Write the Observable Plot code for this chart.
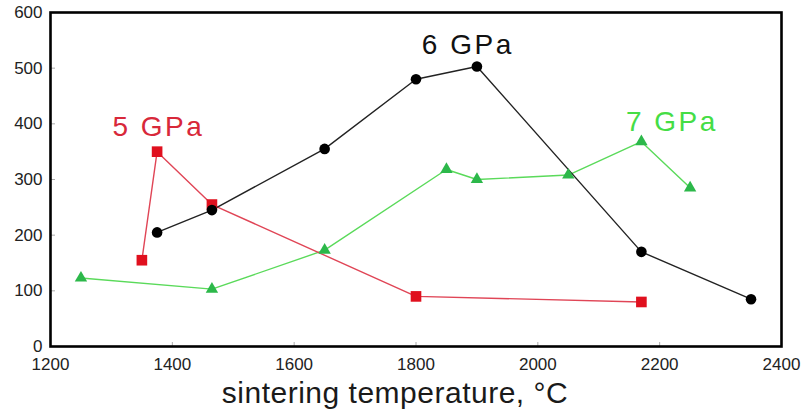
<!DOCTYPE html>
<html>
<head>
<meta charset="utf-8">
<script src="https://cdn.jsdelivr.net/npm/d3@7"></script>
<script src="https://cdn.jsdelivr.net/npm/@observablehq/plot@0.6"></script>
<style>
  html, body { margin: 0; padding: 0; background: #fff; }
  #chart svg { display: block; font-family: "Liberation Sans", Arial, sans-serif; }
</style>
</head>
<body>
<div id="chart"></div>
<script>
// 5 GPa (red squares)
const temp5 = [1350, 1375, 1465, 1800, 2170];
const val5  = [155, 350, 255, 90, 80];
// 6 GPa (black circles)
const temp6 = [1375, 1465, 1650, 1800, 1900, 2170, 2350];
const val6  = [205, 245, 355, 480, 503, 170, 85];
// 7 GPa (green triangles)
const temp7 = [1250, 1465, 1650, 1850, 1900, 2050, 2170, 2250];
const val7  = [123, 103, 173, 318, 300, 308, 368, 285];

const xTicks = [1200, 1400, 1600, 1800, 2000, 2200, 2400];
const yTicks = [0, 100, 200, 300, 400, 500, 600];

const labelText = ["5 GPa", "6 GPa", "7 GPa"];
const labelX = [1377, 1885, 2220];
const labelY = [395, 542, 404];
const labelColor = ["#d8283a", "#111111", "#45dd45"];

const xTitle = "sintering temperature, °C";

const s5 = temp5.map((t, i) => ({t, v: val5[i]}));
const s6 = temp6.map((t, i) => ({t, v: val6[i]}));
const s7 = temp7.map((t, i) => ({t, v: val7[i]}));
const labels = labelText.map((s, i) => ({s, x: labelX[i], y: labelY[i], c: labelColor[i]}));

const plot = Plot.plot({
  width: 808,
  height: 412,
  marginLeft: 50,
  marginRight: 27,
  marginTop: 12,
  marginBottom: 66,
  style: {background: "#fff"},
  x: {domain: [1200, 2400], ticks: xTicks, tickFormat: "d"},
  y: {domain: [0, 600], ticks: yTicks, tickFormat: "d"},
  marks: [
    Plot.axisX({ticks: xTicks, tickFormat: "d", tickSize: -4, stroke: "#aaa", tickPadding: 15, fontSize: 17, color: "#222", label: null}),
    Plot.axisY({ticks: yTicks, tickFormat: "d", tickSize: -5, stroke: "#aaa", tickPadding: 13, fontSize: 17, color: "#222", label: null}),
    Plot.line(s7, {x: "t", y: "v", stroke: "#5ada5a", strokeWidth: 1.4}),
    Plot.line(s5, {x: "t", y: "v", stroke: "#e04556", strokeWidth: 1.4}),
    Plot.line(s6, {x: "t", y: "v", stroke: "#222", strokeWidth: 1.4}),
    Plot.dot(s7, {x: "t", y: "v", symbol: "triangle", r: 4.6, fill: "#2cb84a", stroke: "none"}),
    Plot.dot(s5, {x: "t", y: "v", symbol: "square", r: 6, fill: "#e0101e", stroke: "none"}),
    Plot.dot(s6, {x: "t", y: "v", symbol: "circle", r: 5.3, fill: "#000", stroke: "none"}),
    Plot.text(labels, {x: "x", y: "y", text: "s", fill: "c", fontSize: 28}),
    Plot.text([xTitle], {frameAnchor: "bottom", lineAnchor: "bottom", dy: 56, dx: -21, fontSize: 30, fill: "#1a1a1a"}),
    Plot.frame({stroke: "#000", strokeWidth: 2.6})
  ]
});

const texts = d3.select(plot).selectAll('g[aria-label="text"] text');
texts.filter(function () { return this.textContent.includes("GPa"); })
  .style("letter-spacing", "2.5px");
texts.filter(function () { return this.textContent.includes("sintering"); })
  .style("letter-spacing", "0.5px");
document.getElementById("chart").appendChild(plot);
</script>
</body>
</html>
